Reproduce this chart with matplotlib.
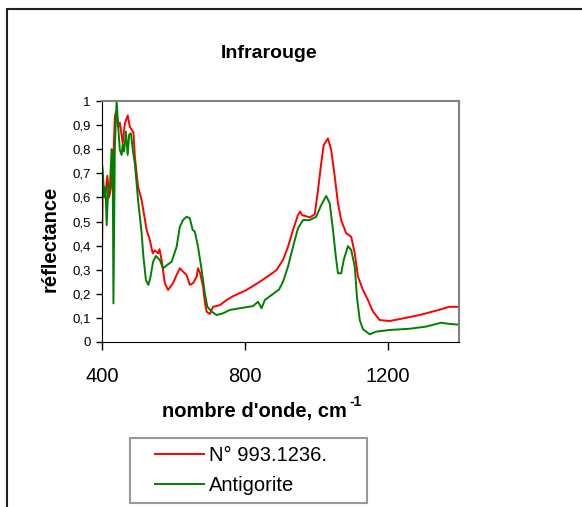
import matplotlib
matplotlib.use('Agg')
import matplotlib.pyplot as plt
from matplotlib.patches import Rectangle
from matplotlib.lines import Line2D
from matplotlib.legend_handler import HandlerLine2D

plt.rcParams['font.family'] = ['Liberation Sans', 'DejaVu Sans']

# spectre de l'échantillon
x_ech = [400, 402, 405, 410, 415, 420, 425, 432, 436, 439, 446, 450, 458, 464, 472, 478,
         488, 492, 501, 511, 525, 534, 542, 548, 557, 561, 567, 576, 585, 591, 599, 609,
         618, 627, 637, 646, 655, 665, 669, 675, 683, 688, 693, 702, 711, 730, 749, 767,
         805, 842, 870, 889, 907, 921, 935, 949, 955, 960, 982, 996, 1005, 1014, 1021,
         1033, 1042, 1052, 1061, 1070, 1084, 1098, 1108, 1117, 1131, 1145, 1159, 1178,
         1206, 1243, 1290, 1336, 1373, 1400]
y_ech = [0.35, 0.63, 0.645, 0.62, 0.69, 0.60, 0.64, 0.77, 0.935, 0.955, 0.893, 0.91,
         0.824, 0.907, 0.94, 0.893, 0.87, 0.77, 0.644, 0.589, 0.465, 0.423, 0.368, 0.38,
         0.368, 0.385, 0.34, 0.244, 0.216, 0.228, 0.244, 0.278, 0.306, 0.292, 0.278,
         0.237, 0.244, 0.27, 0.306, 0.285, 0.23, 0.167, 0.126, 0.116, 0.146, 0.153, 0.174,
         0.19, 0.216, 0.25, 0.278, 0.299, 0.34, 0.395, 0.465, 0.527, 0.541, 0.527, 0.517,
         0.53, 0.63, 0.741, 0.817, 0.845, 0.797, 0.686, 0.575, 0.506, 0.451, 0.437, 0.368,
         0.271, 0.216, 0.174, 0.126, 0.091, 0.087, 0.098, 0.112, 0.13, 0.146, 0.146]

# spectre de référence
x_ant = [400, 402, 406, 410, 413, 418, 422, 427, 430, 432, 436, 441, 446, 450, 455, 458,
         462, 467, 472, 476, 481, 486, 492, 501, 511, 516, 523, 530, 536, 543, 551, 562,
         571, 583, 595, 609, 618, 627, 637, 646, 654, 660, 669, 679, 688, 695, 707, 721,
         739, 758, 786, 823, 837, 847, 856, 875, 896, 907, 921, 935, 949, 963, 982, 1000,
         1014, 1028, 1038, 1047, 1055, 1061, 1070, 1077, 1089, 1098, 1108, 1114, 1122,
         1131, 1150, 1168, 1206, 1262, 1308, 1350, 1373, 1400]
y_ant = [0.741, 0.714, 0.60, 0.64, 0.485, 0.65, 0.64, 0.80, 0.77, 0.16, 0.81, 1.0, 0.88,
         0.797, 0.776, 0.82, 0.79, 0.873, 0.776, 0.86, 0.866, 0.80, 0.741, 0.589, 0.451,
         0.354, 0.257, 0.237, 0.271, 0.333, 0.357, 0.34, 0.306, 0.32, 0.333, 0.395, 0.478,
         0.506, 0.52, 0.513, 0.465, 0.458, 0.395, 0.299, 0.202, 0.147, 0.126, 0.112, 0.119,
         0.133, 0.14, 0.149, 0.167, 0.14, 0.174, 0.195, 0.218, 0.25, 0.313, 0.395, 0.472,
         0.506, 0.506, 0.52, 0.568, 0.606, 0.575, 0.465, 0.354, 0.285, 0.285, 0.34, 0.398,
         0.382, 0.313, 0.188, 0.091, 0.053, 0.032, 0.043, 0.05, 0.055, 0.064, 0.08, 0.075,
         0.072]

noms = ['N° 993.1236.', 'Antigorite']
x_ticks = [400, 800, 1200]
y_ticks = [0, 0.1, 0.2, 0.3, 0.4, 0.5, 0.6, 0.7, 0.8, 0.9, 1]
y_labels = ['0', '0,1', '0,2', '0,3', '0,4', '0,5', '0,6', '0,7', '0,8', '0,9', '1']

W, H = 582, 507
fig = plt.figure(figsize=(W / 100, H / 100), dpi=100)
ax = fig.add_axes([102 / W, 1 - 342 / H, 357 / W, 241 / H])

ax.plot(x_ech, y_ech, color='#ff0000', lw=1.4, label=noms[0])
ax.plot(x_ant, y_ant, color='#008000', lw=1.4, label=noms[1])

ax.set_xlim(400, 1400)
ax.set_ylim(0, 1)
ax.set_xticks(x_ticks)
ax.set_xticklabels([str(v) for v in x_ticks], fontsize=14.5)
ax.set_yticks(y_ticks)
ax.set_yticklabels(y_labels, fontsize=9.5)
ax.tick_params(axis='x', direction='out', length=6, width=1, pad=12)
ax.tick_params(axis='y', direction='out', length=4, width=1, pad=4)

for s in ['top', 'right']:
    ax.spines[s].set_color('#808080')
    ax.spines[s].set_linewidth(1.5)
ax.spines['left'].set_color('black')
ax.spines['bottom'].set_color('black')

# titres
fig.text(269 / W, 1 - 53 / H, 'Infrarouge', fontsize=14, fontweight='bold',
         ha='center', va='center')
fig.text(50 / W, 1 - 239 / H, 'réflectance', fontsize=14.5, fontweight='bold',
         rotation=90, ha='center', va='center')
fig.text(162 / W, 1 - 417 / H, "nombre d'onde, cm", fontsize=14.5, fontweight='bold',
         ha='left', va='baseline')
fig.text(349 / W, 1 - 406 / H, '-1', fontsize=10, fontweight='bold',
         ha='left', va='baseline')

leg = fig.legend(loc='lower left', bbox_to_anchor=(130 / W, 1 - 503 / H, 237 / W, 66 / H),
                 mode='expand', borderaxespad=0, fontsize=14.5, handlelength=3.25,
                 handletextpad=0.25, labelspacing=0.52, borderpad=0.4, fancybox=False,
                 handler_map={Line2D: HandlerLine2D(xpad=0.85)})
leg.get_frame().set_edgecolor('#808080')
leg.get_frame().set_linewidth(1.5)

# cadre extérieur
fig.patches.append(Rectangle((7 / W, -0.5), 2, 1.5 - 9 / H, transform=fig.transFigure,
                             fill=False, edgecolor='#202020', lw=1.5))

fig.savefig('out.png', dpi=100)
